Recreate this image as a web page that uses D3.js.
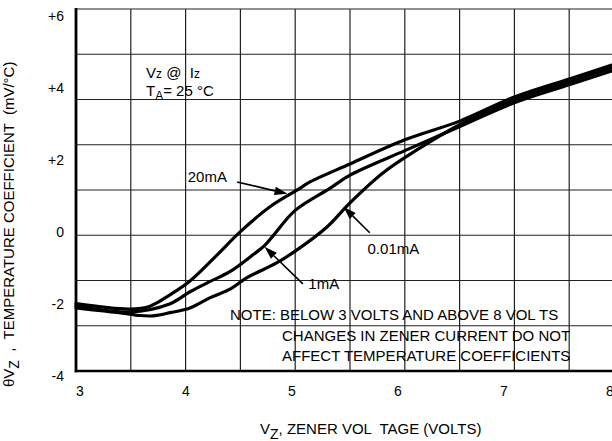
<!DOCTYPE html>
<html><head><meta charset="utf-8">
<script src="https://cdn.jsdelivr.net/npm/d3@7"></script>
<style>
body{margin:0;background:#fff}
svg{display:block;background:#fff}
text{font-family:"Liberation Sans",Arial,Helvetica,sans-serif;fill:#000;white-space:pre}
</style>
</head><body>
<svg id="chart" width="612" height="441"></svg>
<script>
// ---- data ----
const xTicks = [3, 4, 5, 6, 7, 8];
const yTicks = [-4, -2, 0, 2, 4, 6];
const yTickLabels = ["-4", "-2", "0", "+2", "+4", "+6"];

const vz20 = [3.0, 3.49, 3.675, 3.86, 4.04, 4.27, 4.50, 4.77, 5.02, 5.135, 5.50, 6.0, 6.5, 7.0, 7.5, 8.0];
const tc20 = [-1.99, -2.14, -2.06, -1.74, -1.36, -0.69, 0.01, 0.70, 1.17, 1.39, 1.89, 2.56, 3.08, 3.75, 4.25, 4.75];

const vz1 = [3.0, 3.49, 3.86, 4.04, 4.22, 4.40, 4.62, 4.72, 4.80, 5.0, 5.32, 5.50, 6.0, 6.45, 7.0, 7.5, 8.0];
const tc1 = [-2.05, -2.22, -1.99, -1.66, -1.38, -1.11, -0.62, -0.38, -0.10, 0.60, 1.22, 1.58, 2.26, 2.86, 3.59, 4.09, 4.59];

const vz001 = [3.0, 3.49, 3.58, 3.70, 3.86, 4.04, 4.22, 4.41, 4.56, 4.83, 5.02, 5.29, 5.50, 5.80, 6.11, 6.50, 7.0, 7.5, 8.0];
const tc001 = [-2.11, -2.28, -2.32, -2.33, -2.24, -2.11, -1.83, -1.58, -1.27, -0.86, -0.49, 0.14, 0.81, 1.64, 2.28, 2.98, 3.67, 4.17, 4.67];

const seriesNames = ["20mA", "1mA", "0.01mA"];
const labelVz = [4.02, 5.12, 5.66];
const labelTc = [1.39, -1.58, -0.61];
const arrowFromVz = [4.47, 5.07, 5.68];
const arrowFromTc = [1.39, -1.44, -0.02];
const arrowToVz = [4.93, 4.72, 5.44];
const arrowToTc = [1.06, -0.41, 0.70];

const noteLines = ["NOTE: BELOW 3 VOLTS AND ABOVE 8 VOL TS",
                   "CHANGES IN ZENER CURRENT DO NOT",
                   "AFFECT TEMPERATURE COEFFICIENTS"];

// ---- layout ----
const svg = d3.select("#chart");
const W = 612;
const padL = 76, padT = 9, padB = 371;

const x = d3.scaleLinear().domain([3, 8]).range([padL, 624]);
const y = d3.scaleLinear().domain([-4, 6]).range([376, 16]);
const xLabel = d3.scaleLinear().domain([3, 8]).range([80, 610]);
const gridRow = d3.scaleLinear().domain([0, 8]).range([padB, padT]);

const FS = 15;

// grid
const g = svg.append("g");
g.selectAll("line.v").data(d3.range(3, 8.01, 0.5)).join("line")
  .attr("x1", d => x(d)).attr("x2", d => x(d))
  .attr("y1", padT).attr("y2", padB)
  .attr("stroke", "#222").attr("stroke-width", 1.2);
g.selectAll("line.h").data(d3.range(0, 9)).join("line")
  .attr("x1", padL).attr("x2", W)
  .attr("y1", d => gridRow(d)).attr("y2", d => gridRow(d))
  .attr("stroke", "#222").attr("stroke-width", 1.2);

// thick axes
svg.append("line").attr("x1", padL).attr("x2", padL).attr("y1", padT - 1).attr("y2", padB + 1.3)
  .attr("stroke", "#000").attr("stroke-width", 2.8);
svg.append("line").attr("x1", padL - 1.3).attr("x2", W).attr("y1", padB).attr("y2", padB)
  .attr("stroke", "#000").attr("stroke-width", 2.6);

// tick labels
svg.selectAll("text.xt").data(xTicks).join("text")
  .attr("x", d => xLabel(d)).attr("y", 396)
  .attr("text-anchor", "middle").attr("font-size", 14).text(d => d);
svg.selectAll("text.yt").data(yTicks).join("text")
  .attr("x", 64).attr("y", d => y(d)).attr("dy", "0.36em")
  .attr("text-anchor", "end").attr("font-size", 14)
  .text((d, i) => yTickLabels[i]);

// curves
const line = d3.line().x(d => x(d[0])).y(d => y(d[1])).curve(d3.curveCatmullRom.alpha(0.5));
const series = [d3.zip(vz20, tc20), d3.zip(vz1, tc1), d3.zip(vz001, tc001)];
svg.append("g").selectAll("path").data(series).join("path")
  .attr("d", line).attr("fill", "none").attr("stroke", "#000")
  .attr("stroke-width", 3.2).attr("stroke-linejoin", "round").attr("stroke-linecap", "round");

// annotations
seriesNames.forEach((name, i) => {
  svg.append("text").attr("x", x(labelVz[i])).attr("y", y(labelTc[i]))
    .attr("font-size", FS).text(name);
  const x0 = x(arrowFromVz[i]), y0 = y(arrowFromTc[i]);
  const x1 = x(arrowToVz[i]), y1 = y(arrowToTc[i]);
  const ang = Math.atan2(y1 - y0, x1 - x0);
  const L = 13, hw = 4.2;
  const bx = x1 - L * Math.cos(ang), by = y1 - L * Math.sin(ang);
  svg.append("line").attr("x1", x0).attr("y1", y0).attr("x2", bx).attr("y2", by)
    .attr("stroke", "#000").attr("stroke-width", 1.6);
  svg.append("path")
    .attr("d", `M${x1},${y1}L${bx + hw * Math.sin(ang)},${by - hw * Math.cos(ang)}L${bx - hw * Math.sin(ang)},${by + hw * Math.cos(ang)}Z`)
    .attr("fill", "#000");
});

// conditions
const c1 = svg.append("text").attr("x", 146).attr("y", 78).attr("font-size", FS);
c1.append("tspan").text("V");
c1.append("tspan").attr("font-size", 12).text("z");
c1.append("tspan").text(" @  I");
c1.append("tspan").attr("font-size", 12).text("z");

const c2 = svg.append("text").attr("x", 146).attr("y", 96).attr("font-size", FS);
c2.append("tspan").text("T");
c2.append("tspan").attr("font-size", 12).attr("dy", 4).text("A");
c2.append("tspan").attr("dy", -4).text("= 25 °C");

// note
svg.append("text").attr("x", 230).attr("y", 320).attr("font-size", FS).text(noteLines[0]);
svg.append("text").attr("x", 282).attr("y", 341).attr("font-size", FS).text(noteLines[1]);
svg.append("text").attr("x", 282).attr("y", 361).attr("font-size", FS).text(noteLines[2]);

// x title
const xt = svg.append("text").attr("x", 260).attr("y", 434).attr("font-size", FS);
xt.append("tspan").text("V");
xt.append("tspan").attr("font-size", 14).attr("dy", 5).text("Z");
xt.append("tspan").attr("dy", -5).text(", ZENER VOL  TAGE (VOLTS)");

// y title
const yt = svg.append("text").attr("transform", "translate(14,387) rotate(-90)").attr("font-size", FS);
yt.append("tspan").text("θV");
yt.append("tspan").attr("font-size", 14).attr("dy", 5).text("Z");
yt.append("tspan").attr("dy", -5).text("  ,  TEMPERATURE COEFFICIENT  (mV/°C)");
</script>
</body></html>
